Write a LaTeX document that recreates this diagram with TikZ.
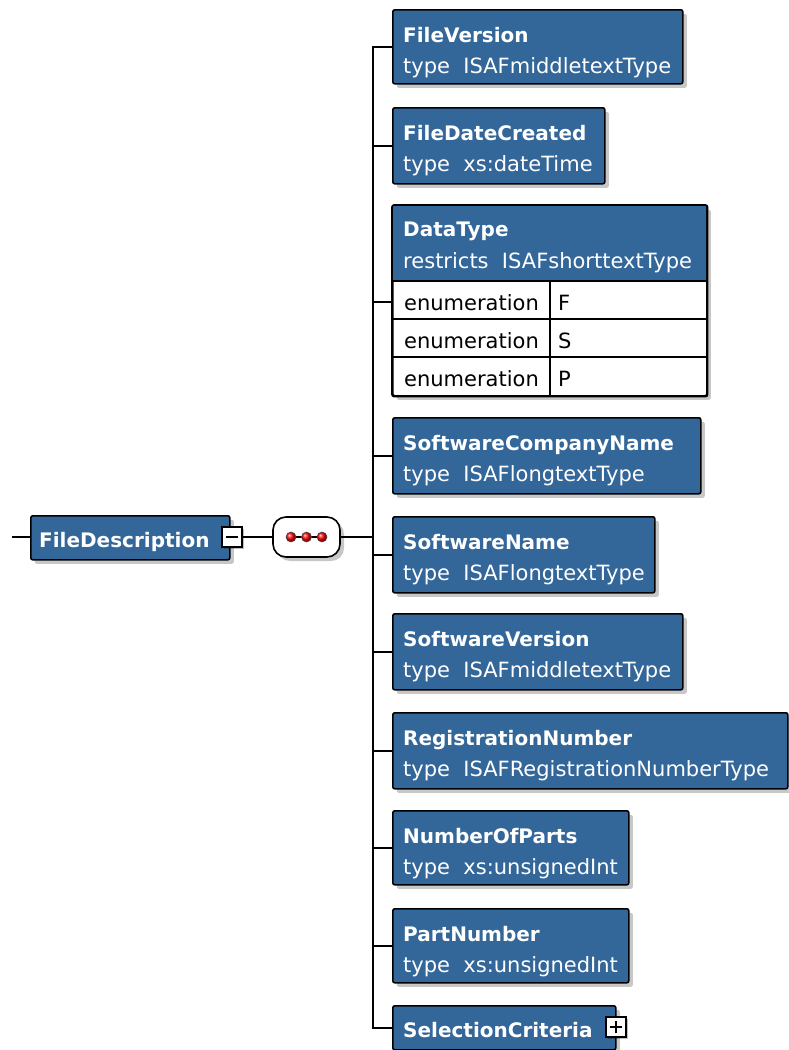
\documentclass[tikz,border=0pt]{standalone}
\usepackage{fontspec}
\setmainfont{DejaVu Sans}
\usetikzlibrary{shadows,calc}
\definecolor{xblue}{HTML}{336699}
\tikzset{
  el/.style={draw=black, line width=1.6pt, fill=xblue, rounded corners=2pt, anchor=north west, inner sep=0pt,
    drop shadow={shadow xshift=4pt, shadow yshift=-4pt, fill=black, opacity=0.22}},
  ttl/.style={anchor=base west, inner sep=0pt, text=white, font=\bfseries\fontsize{20}{24}\selectfont},
  sub/.style={anchor=base west, inner sep=0pt, text=white, font=\fontsize{21}{25}\selectfont},
  enumtxt/.style={anchor=base west, inner sep=0pt, text=black, font=\fontsize{21}{25}\selectfont},
  conn/.style={draw=black, line width=2pt},
  pmbox/.style={draw=black, line width=1.6pt, fill=white, minimum width=20pt, minimum height=20pt, inner sep=0pt, anchor=center,
    drop shadow={shadow xshift=2pt, shadow yshift=-2pt, fill=black, opacity=0.25}},
  dot/.style={ball color=red, draw=black!70, line width=0.6pt}
}
\newcommand\xelem[6]{%
  \node[el, minimum width={#4-392}, minimum height={#3-#2}] (#1) at (392,#2) {};
  \draw[conn] (trunk) |- (#1.west);
  \node[ttl] (#1t) at (403,#2+33) {#5};
  \node[sub] (#1s) at (403,#2+64) {#6};
}
\begin{document}
\begin{tikzpicture}[x=1pt,y=-1pt]
\useasboundingbox (0,0) rectangle (788,1050);

% root element
\node[el, minimum width=199pt, minimum height=44pt] (fd) at (30,515) {};
\coordinate (in) at (12,537);
\node[ttl] (fdt) at (39,547) {FileDescription};
\draw[conn] (in) -- (in -| fd.west);
\node[pmbox] (minus) at (232,537) {};
\draw[line width=2pt] ([xshift=-6pt]minus.center) -- ([xshift=6pt]minus.center);

% sequence compositor
\node[draw=black, line width=1.6pt, fill=white, rounded corners=13pt, minimum width=67pt, minimum height=40pt, inner sep=0pt,
  drop shadow={shadow xshift=4pt, shadow yshift=-4pt, fill=black, opacity=0.22}] (seq) at (306.5,537) {};
\draw[line width=1.4pt] (291,537) -- (322,537);
\shade[dot] (291,537) circle (5);
\shade[dot] (306.5,537) circle (5);
\shade[dot] (322,537) circle (5);
\draw[conn] (minus.east) -- (seq.west);
\coordinate (trunk) at (373,537);
\draw[conn] (seq.east) -- (trunk);

% children
\xelem{fv}{9}{83}{682}{FileVersion}{type\ \ ISAFmiddletextType}
\xelem{fdc}{107}{183}{604}{FileDateCreated}{type\ \ xs:dateTime}

% DataType with enumerations
\node[el, fill=white, minimum width=314pt, minimum height=190pt] (dt) at (392,205) {};
\coordinate (dtin) at (392,302);
\draw[conn] (trunk) |- (dtin);
\fill[xblue, rounded corners=2pt] (392,205) rectangle (706,281);
\draw[line width=1.6pt] (392,281) -- (706,281);
\draw[line width=1.6pt] (392,319) -- (706,319);
\draw[line width=1.6pt] (392,357) -- (706,357);
\draw[line width=1.6pt] (550,281) -- (550,395);
\draw[line width=1.6pt, rounded corners=2pt] (dt.north west) rectangle (dt.south east);
\node[ttl] (dtt) at (403,236) {DataType};
\node[sub] (dts) at (403,268) {restricts\ \ ISAFshorttextType};
\node[enumtxt] (e1) at (404,310) {enumeration};
\node[enumtxt] (v1) at (558,310) {F};
\node[enumtxt] (e2) at (404,348) {enumeration};
\node[enumtxt] (v2) at (558,348) {S};
\node[enumtxt] (e3) at (404,386) {enumeration};
\node[enumtxt] (v3) at (558,386) {P};

\xelem{scn}{417}{493}{700}{SoftwareCompanyName}{type\ \ ISAFlongtextType}
\xelem{sn}{516}{592}{654}{SoftwareName}{type\ \ ISAFlongtextType}
\xelem{sv}{613}{689}{682}{SoftwareVersion}{type\ \ ISAFmiddletextType}
\xelem{rn}{712}{788}{787}{RegistrationNumber}{type\ \ ISAFRegistrationNumberType}
\xelem{nop}{810}{884}{628}{NumberOfParts}{type\ \ xs:unsignedInt}
\xelem{pn}{908}{982}{628}{PartNumber}{type\ \ xs:unsignedInt}

% SelectionCriteria
\node[el, minimum width=223pt, minimum height=44pt] (sc) at (392,1005) {};
\draw[conn] (trunk) |- (sc.west);
\node[ttl] (sct) at (403,1037) {SelectionCriteria};
\node[pmbox] (plus) at (616,1027) {};
\draw[line width=2pt] ([xshift=-6pt]plus.center) -- ([xshift=6pt]plus.center);
\draw[line width=2pt] ([yshift=-6pt]plus.center) -- ([yshift=6pt]plus.center);
\end{tikzpicture}
\end{document}
